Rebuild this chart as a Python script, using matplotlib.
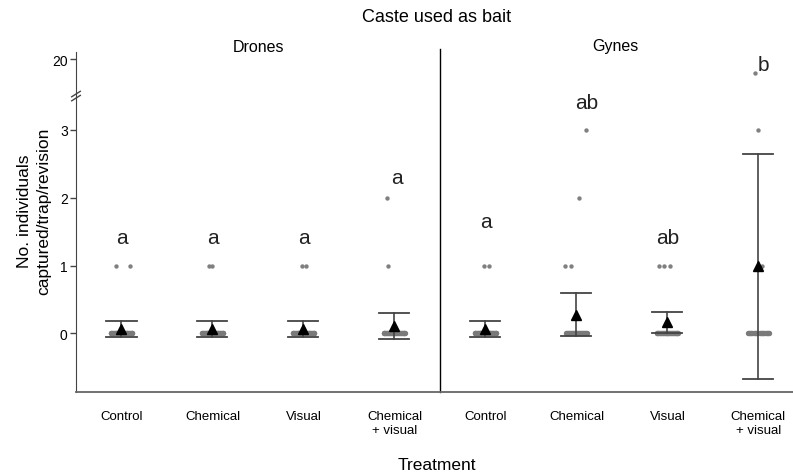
import numpy as np
import matplotlib.pyplot as plt

plt.rcParams['font.family'] = ['Liberation Sans', 'DejaVu Sans']

# Treatments within each bait caste
treatments = ['Control', 'Chemical', 'Visual', 'Chemical\n+ visual']
castes = ['Drones', 'Gynes']

# Captures per trap per revision (non-zero observations), one list per group
nonzero = [
    [1, 1], [1, 1], [1, 1], [1, 2],
    [1, 1], [1, 1, 2, 3], [1, 1, 1], [1, 3, 18],
]
nonzero_dx = [
    [-0.055, 0.09], [-0.04, 0.0], [-0.02, 0.03], [-0.07, -0.08],
    [-0.02, 0.04], [-0.13, -0.06, 0.03, 0.11], [-0.09, -0.04, 0.03], [0.04, -0.01, -0.04],
]
n_zero = [27, 27, 27, 25, 27, 22, 25, 19]

# Mean and error bar limits
means = [0.07, 0.07, 0.07, 0.11, 0.07, 0.27, 0.17, 1.0]
err_low = [-0.06, -0.05, -0.05, -0.09, -0.06, -0.04, 0.0, -0.67]
err_high = [0.19, 0.19, 0.19, 0.30, 0.19, 0.60, 0.31, 2.65]

# Significance letters
letters = ['a', 'a', 'a', 'a', 'a', 'ab', 'ab', 'b']
letter_y = [1.42, 1.42, 1.42, 2.3, 1.65, 3.4, 1.42, 3.97]
letter_dx = [0, 0, 0, 0.03, 0, 0.11, 0, 0.05]


def to_axis(v):
    # compress values above the break so 20 sits just above 3
    v = np.asarray(v, dtype=float)
    return np.where(v <= 3.5, v, 4.04 - (20 - v) * 0.1)


fig = plt.figure(figsize=(7.93, 4.77), dpi=100)
ax = fig.add_axes([76 / 793, 1 - 392.7 / 477, 1 - 76 / 793, (392.7 - 53) / 477])

xs = np.arange(1, 9)
for i, x in enumerate(xs):
    # zero observations, stacked side by side
    zx = x + np.linspace(-0.12, 0.12, n_zero[i])
    ax.scatter(zx, np.zeros(n_zero[i]), s=15, color='#7a7a7a', lw=0, zorder=2)
    ax.scatter(x + np.array(nonzero_dx[i]), to_axis(nonzero[i]), s=10,
               color='#808080', lw=0, zorder=2)
    # error bar
    ax.plot([x, x], [err_low[i], err_high[i]], color='#444444', lw=1.2, zorder=3)
    for yc in (err_low[i], err_high[i]):
        ax.plot([x - 0.165, x + 0.165], [yc, yc], color='#444444', lw=1.3, zorder=3)
    ax.plot(x, means[i], marker='^', color='black', ms=6.5, zorder=4)
    ax.text(x + letter_dx[i], letter_y[i], letters[i], ha='center', va='center',
            fontsize=15, color='#222222')

ax.axvline(4.5, ymin=0, ymax=1.01, color='black', lw=1, clip_on=False)

ax.set_xlim(0.5, 8.38)
ax.set_ylim(-0.86, 4.15)
ax.set_xticks(xs)
ax.set_xticklabels(treatments * 2, fontsize=9.5)
ax.tick_params(axis='x', length=0, pad=13)
ax.set_yticks([0, 1, 2, 3, float(to_axis(20))])
ax.set_yticklabels(['0', '1', '2', '3', '20'], fontsize=10)
ax.tick_params(axis='y', length=4, width=1, color='#444444', pad=2)

for side in ('top', 'right'):
    ax.spines[side].set_visible(False)
ax.spines['left'].set_color('#444444')
ax.spines['bottom'].set_color('#666666')
ax.spines['bottom'].set_linewidth(1.3)

# break marks on the y axis
ybrk = (3.5 + 0.86) / (4.15 + 0.86)
for dy in (-0.006, 0.006):
    ax.plot([-0.006, 0.006], [ybrk + dy - 0.008, ybrk + dy + 0.008],
            transform=ax.transAxes, color='#444444', lw=1, clip_on=False)

fig.text(437 / 793, 1 - 466 / 477, 'Treatment', ha='center', va='center', fontsize=12.5)
fig.text(34 / 793, 1 - 211 / 477, 'No. individuals\ncaptured/trap/revision', ha='center',
         va='center', rotation=90, fontsize=12.5, linespacing=1.35)

fig.text(437 / 793, 1 - 18 / 477, 'Caste used as bait', ha='center', va='center', fontsize=13)
fig.text(258 / 793, 1 - 47 / 477, castes[0], ha='center', va='center', fontsize=11.5)
fig.text(615 / 793, 1 - 47 / 477, castes[1], ha='center', va='center', fontsize=11.5)

fig.savefig('out.png', dpi=100)
